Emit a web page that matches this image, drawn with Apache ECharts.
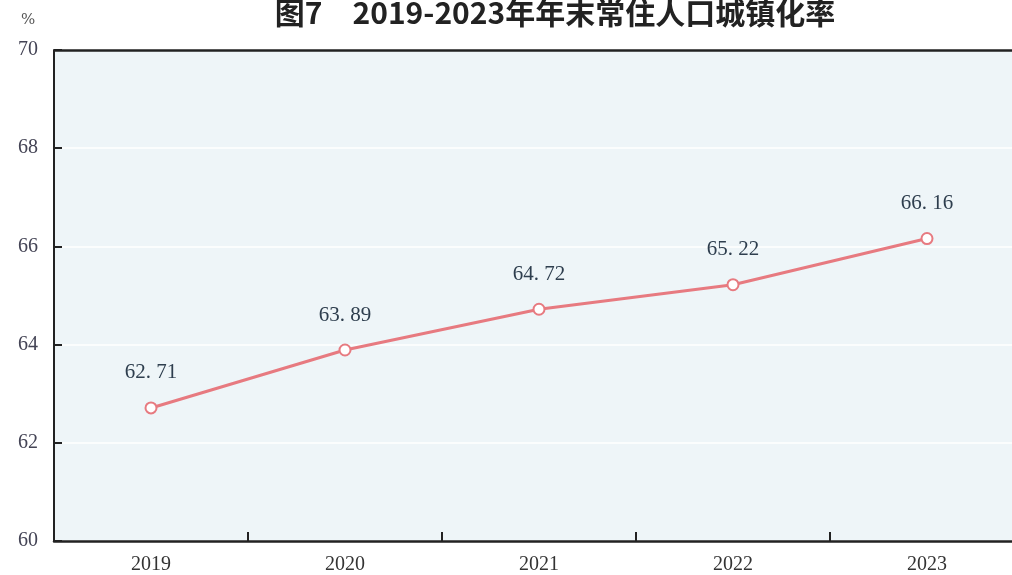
<!DOCTYPE html>
<html><head><meta charset="utf-8">
<script src="https://cdn.jsdelivr.net/npm/echarts@6/dist/echarts.min.js"></script>
<style>html,body{margin:0;padding:0;background:#fff}#c{width:1012px;height:575px}</style>
</head><body><div id="c"></div>
<script>
const titleText = '图7　2019-2023年年末常住人口城镇化率';
const unitLabel = '%';
const categories = ['2019', '2020', '2021', '2022', '2023'];
const values = [62.71, 63.89, 64.72, 65.22, 66.16];
const yMin = 60, yMax = 70, yStep = 2;

const chart = echarts.init(document.getElementById('c'));
chart.setOption({
  backgroundColor: '#ffffff',
  animation: false,
  title: {
    text: titleText, left: 550, top: -7, textAlign: 'center',
    textStyle: {fontFamily: 'Noto Sans CJK SC', fontSize: 30, fontWeight: 'bold', color: '#222'}
  },
  graphic: [{
    type: 'text', left: 21, top: 13,
    style: {text: unitLabel, fontFamily: 'DejaVu Serif', fontSize: 15, fill: '#555'}
  }],
  grid: {left: 54, width: 970, top: 50, bottom: 34, show: true, backgroundColor: '#eef5f8', borderWidth: 0,
    outerBoundsMode: 'none', containLabel: false},
  xAxis: {
    type: 'category', data: categories, boundaryGap: true,
    axisLine: {lineStyle: {color: '#222', width: 2.5}},
    axisTick: {show: true, inside: true, length: 9, lineStyle: {color: '#222', width: 2}},
    axisLabel: {fontFamily: 'Liberation Serif', fontSize: 20, color: '#333', margin: 14},
    splitLine: {show: false}
  },
  yAxis: {
    type: 'value', min: yMin, max: yMax, interval: yStep,
    axisLine: {show: true, lineStyle: {color: '#222', width: 2}},
    axisTick: {show: true, inside: true, length: 8, lineStyle: {color: '#222', width: 2}},
    axisLabel: {fontFamily: 'Liberation Serif', fontSize: 20, color: '#445', margin: 16},
    splitLine: {show: true, lineStyle: {color: '#ffffff', width: 1.5}}
  },
  series: [{
    type: 'line', data: values,
    symbol: 'circle', symbolSize: 11, showSymbol: true,
    lineStyle: {color: '#e77a80', width: 3},
    itemStyle: {color: '#fff', borderColor: '#e77a80', borderWidth: 2},
    label: {show: true, position: 'top', distance: 18,
      formatter: p => p.value.toFixed(2).replace('.', '. '),
      fontFamily: 'Liberation Serif', fontSize: 21, color: '#2e3e4e'}
  }, {
    type: 'line', data: [], markLine: {silent: true, symbol: 'none', label: {show: false},
      lineStyle: {color: '#222', width: 2.5, type: 'solid'}, data: [{yAxis: yMax}]}
  }]
});
</script></body></html>
